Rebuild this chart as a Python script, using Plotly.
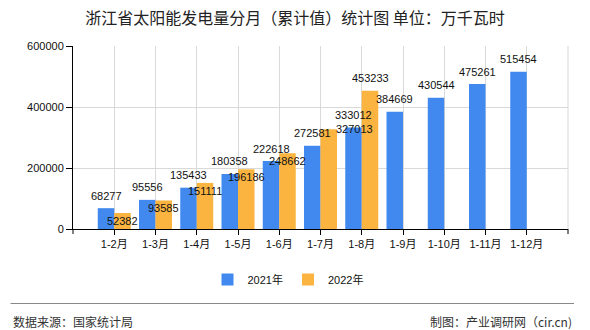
import plotly.graph_objects as go

# ---------------- data ----------------
categories = ["1-2月", "1-3月", "1-4月", "1-5月", "1-6月", "1-7月",
              "1-8月", "1-9月", "1-10月", "1-11月", "1-12月"]
series_2021 = [68277, 95556, 135433, 180358, 222618, 272581,
               333012, 384669, 430544, 475261, 515454]
series_2022 = [52382, 93585, 151111, 196186, 248662, 327013, 453233]
y_ticks = [0, 200000, 400000, 600000]
name_2021 = "2021年"
name_2022 = "2022年"
title_text = "浙江省太阳能发电量分月（累计值）统计图 单位：万千瓦时"
source_text = "数据来源：国家统计局"
credit_text = "制图：产业调研网（cir.cn)"

# ---------------- style ----------------
W, H = 590, 330
L, R, T, B = 73, 22, 46, 101
PW, PH = W - L - R, H - T - B
BLUE = "#4189ef"
ORANGE = "#fcb440"
GRID = "#d9d9d9"
FONT = "Liberation Sans, Noto Sans CJK SC, sans-serif"
CJK = "Noto Sans CJK SC, sans-serif"

# label placement (pixel shifts), kept apart from data
blue_label_dy = 12.5
orange_label_dy = -8
orange_label_override = {6: (0, 13), 5: (26, 0)}  # index -> (dx, dy)


def px_x(px):
    return (px - L) / PW


def px_y(py):
    return (H - B - py) / PH


fig = go.Figure()
fig.add_trace(go.Bar(x=categories, y=series_2021, name=name_2021,
                     marker=dict(color=BLUE, line=dict(width=0))))
fig.add_trace(go.Bar(x=categories[:len(series_2022)], y=series_2022, name=name_2022,
                     marker=dict(color=ORANGE, line=dict(width=0))))

annotations = []
for i, v in enumerate(series_2021):
    annotations.append(dict(x=i - 0.2, y=v, xref="x", yref="y", text=str(v),
                            showarrow=False, yanchor="middle", xanchor="center",
                            yshift=blue_label_dy,
                            font=dict(family=FONT, size=11, color="#111")))
for i, v in enumerate(series_2022):
    dx, dy = orange_label_override.get(i, (0, orange_label_dy))
    annotations.append(dict(x=i + 0.2, y=v, xref="x", yref="y", text=str(v),
                            showarrow=False, yanchor="middle", xanchor="center",
                            xshift=dx, yshift=dy,
                            font=dict(family=FONT, size=11, color="#111")))

annotations.append(dict(xref="paper", yref="paper", x=px_x(11), y=px_y(321.5),
                        xanchor="left", yanchor="middle", showarrow=False,
                        text=source_text, font=dict(family=CJK, size=12, color="#333")))
annotations.append(dict(xref="paper", yref="paper", x=px_x(574), y=px_y(321.5),
                        xanchor="right", yanchor="middle", showarrow=False,
                        text=credit_text, font=dict(family=CJK, size=12, color="#333")))

shapes = [
    # footer separator
    dict(type="line", xref="paper", yref="paper", x0=px_x(10.5), x1=px_x(574),
         y0=px_y(303.5), y1=px_y(303.5), line=dict(color="#888888", width=1)),
    # right edge gridline
    dict(type="line", xref="x domain", yref="y domain", x0=1, x1=1, y0=0, y1=1,
         line=dict(color=GRID, width=1)),
    # end ticks of x axis
    dict(type="line", xref="x domain", yref="y domain", x0=0, x1=0, y0=0, y1=-5 / PH,
         line=dict(color="#000", width=1)),
    dict(type="line", xref="x domain", yref="y domain", x0=1, x1=1, y0=0, y1=-5 / PH,
         line=dict(color="#000", width=1)),
]

fig.update_layout(
    width=W, height=H,
    margin=dict(l=L, r=R, t=T, b=B),
    paper_bgcolor="white", plot_bgcolor="white",
    barmode="group", bargap=0.2, bargroupgap=0,
    title=dict(text=title_text, xref="container", yref="container",
               x=0.5, xanchor="center", y=1 - 18 / H, yanchor="middle",
               font=dict(family=CJK, size=16, color="#222")),
    showlegend=True,
    legend=dict(orientation="h", xanchor="center", yanchor="middle",
                x=px_x(288), y=px_y(279.5), font=dict(family=FONT, size=11, color="#111"),
                itemwidth=30, bgcolor="rgba(0,0,0,0)"),
    xaxis=dict(type="category", range=[-1, len(categories)], showgrid=True,
               gridcolor=GRID, gridwidth=1, showline=True, linecolor="#000",
               linewidth=1, ticks="outside", ticklen=5, tickcolor="#000",
               tickfont=dict(family=FONT, size=11, color="#111"), fixedrange=True),
    yaxis=dict(range=[0, y_ticks[-1]], tickvals=y_ticks, tickformat="d",
               showgrid=True, gridcolor=GRID, gridwidth=1, zeroline=False,
               showline=True, linecolor="#000", linewidth=1, ticks="outside",
               ticklen=6, tickcolor="#000",
               tickfont=dict(family=FONT, size=11, color="#111"), fixedrange=True),
    annotations=annotations,
    shapes=shapes,
)

fig.write_html("out.html", config={"displayModeBar": False})
